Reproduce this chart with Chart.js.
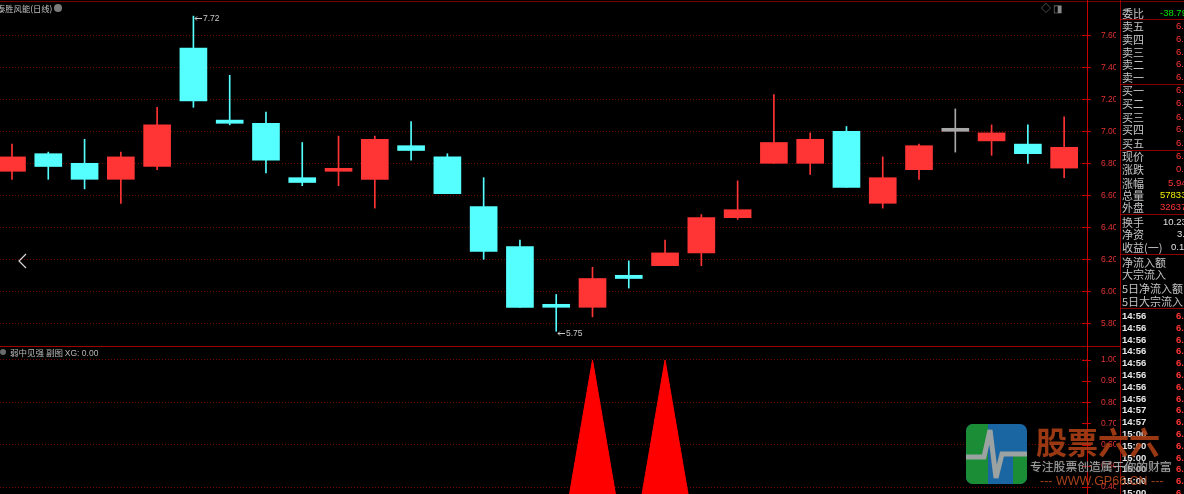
<!DOCTYPE html>
<html><head><meta charset="utf-8">
<script src="https://cdn.jsdelivr.net/npm/chart.js@4.4.1/dist/chart.umd.min.js"></script>
<style>
html,body{margin:0;padding:0;background:#000;}
body{width:1184px;height:494px;overflow:hidden;position:relative;font-family:"Noto Sans CJK SC","Liberation Sans",sans-serif;}
.abs{position:absolute;white-space:nowrap;}
#w1{position:absolute;left:0;top:0;width:1120px;height:346px;}
#w2{position:absolute;left:0;top:347px;width:1120px;height:147px;}
.ln{position:absolute;}
.rp{position:absolute;white-space:nowrap;line-height:14px;height:14px;}
</style></head>
<body>
<div id="w1"><canvas id="c1" width="1120" height="346"></canvas></div>
<div id="w2"><canvas id="c2" width="1120" height="147"></canvas></div>

<!-- frame lines -->
<div class="ln" style="left:0;top:1px;width:1184px;height:1px;background:#7a0000"></div>
<div class="ln" style="left:0;top:346px;width:1120px;height:1px;background:#a00000"></div>
<div class="ln" style="left:1087px;top:0;width:1px;height:494px;background:#c80000"></div>
<div class="ln" style="left:1120px;top:0;width:1px;height:494px;background:#900000"></div>

<!-- titles -->
<div class="abs" style="left:-3px;top:2px;font-size:8.3px;line-height:12px;color:#c0c0c0">泰胜风能(日线)</div>
<div class="abs" style="left:54px;top:4px;width:8px;height:8px;border-radius:50%;background:#7a7a7a"></div>
<div class="abs" style="left:0px;top:349px;width:6px;height:6px;border-radius:50%;background:#6a6a6a"></div>
<div class="abs" style="left:10px;top:346px;font-size:8.5px;line-height:12px;color:#b8b8b8">弱中见强 副图 <span style="font-family:'Liberation Sans'">XG: 0.00</span></div>
<div class="abs" style="left:1041px;top:1px;font-size:10px;line-height:14px;color:#8a8a8a">◇</div>
<div class="abs" style="left:1053px;top:1px;font-size:10px;line-height:14px;color:#8a8a8a">◨</div>
<svg class="abs" style="left:15px;top:250px" width="16" height="22"><polyline points="11,4 4,11 11,18" fill="none" stroke="#d8d8d8" stroke-width="1.2"/></svg>

<div id="rpanel"></div>

<!-- watermark -->
<svg class="abs" style="left:966px;top:424px;opacity:0.92" width="61" height="60">
  <defs><clipPath id="rc"><rect x="0" y="0" width="61" height="60" rx="7" ry="7"/></clipPath></defs>
  <g clip-path="url(#rc)">
    <rect x="0" y="0" width="61" height="60" fill="#1d6fb0"/>
    <rect x="0" y="0" width="22" height="60" fill="#1f9a3c"/>
    <rect x="47" y="29" width="14" height="31" fill="#1f9a3c"/>
    <polyline points="0,33 18,33 24,6 30,54 36,30 61,30" fill="none" stroke="#a9b0b0" stroke-width="5" stroke-linejoin="miter"/>
  </g>
</svg>
<div class="abs" style="left:1036px;top:421px;font-size:31px;line-height:40px;font-weight:bold;color:rgba(170,62,20,0.9);letter-spacing:0px">股票六六</div>
<div class="abs" style="left:1030px;top:459px;font-size:11.8px;line-height:14px;color:#a8a8a8;text-shadow:0 0 2px #333">专注股票创造属于你的财富</div>
<div class="abs" style="left:1040px;top:474px;font-size:12.5px;line-height:14px;color:rgba(175,70,30,0.95);font-family:'Liberation Sans'">--- WWW.GP66.CN ---</div>

<script>
// ===== data =====
const OPEN  = [6.75,6.86,6.80,6.70,6.78,7.52,7.07,7.05,6.71,6.75,6.70,6.91,6.84,6.53,6.28,5.91,5.90,6.10,6.16,6.24,6.46,6.80,6.80,7.00,6.55,6.76,7.00,6.94,6.92,6.77];
const HIGH  = [6.92,6.87,6.95,6.87,7.15,7.72,7.35,7.12,6.93,6.97,6.97,7.06,6.86,6.71,6.32,5.98,6.15,6.19,6.32,6.48,6.69,7.23,6.99,7.03,6.84,6.92,7.14,7.04,7.04,7.09];
const LOW   = [6.70,6.70,6.64,6.55,6.76,7.15,7.04,6.74,6.66,6.66,6.52,6.82,6.61,6.20,5.90,5.75,5.84,6.02,6.16,6.16,6.45,6.80,6.73,6.65,6.52,6.70,6.87,6.85,6.80,6.71];
const CLOSE = [6.84,6.78,6.70,6.84,7.04,7.19,7.05,6.82,6.68,6.76,6.95,6.88,6.61,6.25,5.90,5.90,6.08,6.08,6.24,6.46,6.51,6.93,6.95,6.65,6.71,6.91,7.00,6.99,6.86,6.90];
const XG    = [0,0,0,0,0,0,0,0,0,0,0,0,0,0,0,0,1,0,1,0,0,0,0,0,0,0,0,0,0,0];
const TOP_TICKS = [7.60,7.40,7.20,7.00,6.80,6.60,6.40,6.20,6.00,5.80];
const BOT_TICKS = [1.00,0.90,0.80,0.70,0.60,0.50,0.40];

const UP='#ff3434', DN='#55ffff', FLAT='#a8a8a8';
const col = i => CLOSE[i]>OPEN[i]?UP:(CLOSE[i]<OPEN[i]?DN:FLAT);
const idx = OPEN.map((_,i)=>i);

const X_MIN=-0.331, X_MAX=29.63;
const TICK_FONT={size:8.5,family:'Liberation Sans'};
function fitY(s){ s.width=29; s.paddingTop=0; s.paddingBottom=0; }

const axisMarks = {
  id:'axisMarks',
  afterDraw(chart, args, opts){
    const ys=chart.scales.y, ctx=chart.ctx, x=chart.chartArea.right;
    ctx.save(); ctx.strokeStyle='#c80000'; ctx.lineWidth=1;
    opts.ticks.forEach(v=>{const y=Math.round(ys.getPixelForValue(v))+0.5; ctx.beginPath(); ctx.moveTo(x-5,y); ctx.lineTo(x+4,y); ctx.stroke();});
    ctx.restore();
  }
};

const extremes = {
  id:'extremes',
  afterDatasetsDraw(chart){
    const xs=chart.scales.x, ys=chart.scales.y, ctx=chart.ctx;
    const hi=Math.max(...HIGH), hiI=HIGH.indexOf(hi);
    const lo=Math.min(...LOW), loI=LOW.indexOf(lo);
    ctx.save();
    ctx.font='8.5px "Liberation Sans"'; ctx.fillStyle='#c8c8c8'; ctx.strokeStyle='#c8c8c8'; ctx.lineWidth=1;
    ctx.textBaseline='middle';
    [[hiI,hi],[loI,lo]].forEach(([i,v])=>{
      const x=Math.round(xs.getPixelForValue(i)), y=Math.round(ys.getPixelForValue(v))+2.5;
      ctx.beginPath(); ctx.moveTo(x+2,y); ctx.lineTo(x+9,y); ctx.stroke();
      ctx.beginPath(); ctx.moveTo(x+4,y-2); ctx.lineTo(x+2,y); ctx.lineTo(x+4,y+2); ctx.stroke();
      ctx.fillText(v.toFixed(2), x+10, y);
    });
    ctx.restore();
  }
};

new Chart(document.getElementById('c1'), {
  type:'bar',
  data:{datasets:[
    {data: idx.map(i=>({x:i,y:[LOW[i],HIGH[i]]})), backgroundColor: idx.map(col), barThickness:1, grouped:false, order:2, borderWidth:0},
    {data: idx.map(i=>({x:i,y:[OPEN[i],CLOSE[i]]})), backgroundColor: idx.map(col), barThickness:27, grouped:false, order:1, borderWidth:0, minBarLength:3}
  ]},
  options:{
    responsive:false, animation:false, events:[],
    layout:{padding:{left:0,right:4,top:0,bottom:0}},
    plugins:{legend:{display:false}, tooltip:{enabled:false}, axisMarks:{ticks:TOP_TICKS}},
    scales:{
      x:{type:'linear', min:X_MIN, max:X_MAX, display:false, offset:false, grid:{offset:false}},
      y:{position:'right', min:5.6581, max:7.8206,
         afterFit:fitY,
         afterBuildTicks(s){s.ticks=TOP_TICKS.map(v=>({value:v}));},
         ticks:{color:'#e03232', font:TICK_FONT, crossAlign:'near', padding:14, callback:v=>v.toFixed(2)},
         grid:{color:'#6e0000', drawTicks:false, lineWidth:1},
         border:{display:false, dash:[1,2]}}
    }
  },
  plugins:[axisMarks, extremes]
});

new Chart(document.getElementById('c2'), {
  type:'line',
  data:{datasets:[{data: idx.map(i=>({x:i,y:XG[i]})), borderColor:'#ff0000', backgroundColor:'#ff0000', borderWidth:1, fill:'origin', pointRadius:0, tension:0}]},
  options:{
    responsive:false, animation:false, events:[],
    layout:{padding:{left:0,right:4,top:0,bottom:0}},
    plugins:{legend:{display:false}, tooltip:{enabled:false}, axisMarks:{ticks:BOT_TICKS}},
    scales:{
      x:{type:'linear', min:X_MIN, max:X_MAX, display:false, offset:false},
      y:{position:'right', min:0.367, max:1.0613,
         afterFit:fitY,
         afterBuildTicks(s){s.ticks=BOT_TICKS.map(v=>({value:v}));},
         ticks:{color:'#e03232', font:TICK_FONT, crossAlign:'near', padding:14, callback:v=>v.toFixed(2)},
         grid:{color:c=>(Math.round(c.tick.value*10)%2===0?'#6e0000':'rgba(0,0,0,0)'), drawTicks:false, lineWidth:1},
         border:{display:false, dash:[1,2]}}
    }
  },
  plugins:[axisMarks]
});

// ===== right quote panel (text) =====
const RP_ROWS = [
  ['委比',13,'-38.79','#00e000',1160],
  ['卖五',26,'6.65',UP,1176],['卖四',39,'6.64',UP,1176],['卖三',52,'6.63',UP,1176],['卖二',64,'6.62',UP,1176],['卖一',77,'6.61',UP,1176],
  ['买一',90,'6.60',UP,1176],['买二',103,'6.59',UP,1176],['买三',117,'6.58',UP,1176],['买四',129,'6.57',UP,1176],['买五',143,'6.56',UP,1176],
  ['现价',156,'6.60',UP,1176],['涨跌',169,'0.37',UP,1176],['涨幅',183,'5.94%',UP,1168],['总量',195,'57833',"#f0f000",1160],['外盘',207,'32637',UP,1160],
  ['换手',222,'10.23%','#e0e0e0',1163],['净资',234,'3.12','#e0e0e0',1177],['收益(一)',247,'0.12','#e0e0e0',1171],
  ['净流入额',262,'',null,0],['大宗流入',274,'',null,0],['5日净流入额',288,'',null,0],['5日大宗流入',301,'',null,0]
];
const RP_LINES=[19,84,150,214,254,308];
const TIMES=['14:56','14:56','14:56','14:56','14:56','14:56','14:56','14:56','14:57','14:57','15:00','15:00','15:00','15:00','15:00','15:00'];
const rp=document.getElementById('rpanel');
let h='';
RP_ROWS.forEach(([l,y,v,c,x])=>{
  h+=`<div class="rp" style="left:1122px;top:${y-7}px;font-size:11px;color:#c4c4c4">${l}</div>`;
  if(v) h+=`<div class="rp" style="left:${x}px;top:${y-7}px;font-size:9.5px;font-family:'Liberation Sans';color:${c}">${v}</div>`;
});
RP_LINES.forEach(y=>{h+=`<div class="ln" style="left:1121px;top:${y}px;width:63px;height:1px;background:#8a0000"></div>`;});
TIMES.forEach((t,k)=>{
  const y=Math.round(316+11.8*k);
  h+=`<div class="rp" style="left:1122px;top:${y-7}px;font-size:9.5px;font-weight:bold;font-family:'Liberation Sans';color:#e8e8e8">${t}</div>`;
  h+=`<div class="rp" style="left:1176px;top:${y-7}px;font-size:9.5px;font-weight:bold;font-family:'Liberation Sans';color:${UP}">6.59</div>`;
});
rp.innerHTML=h;
</script>
</body></html>
